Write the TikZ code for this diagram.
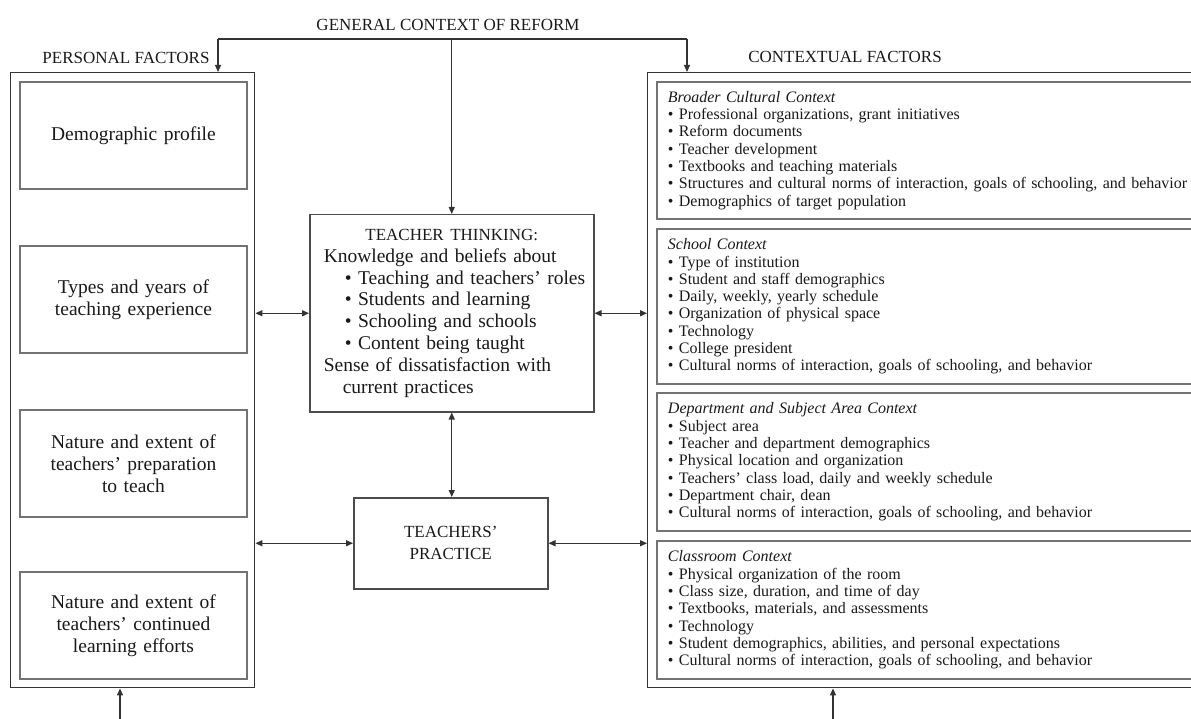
\documentclass[tikz,border=0pt]{standalone}
\usepackage{fontspec}
\setmainfont{Liberation Serif}
\usetikzlibrary{arrows.meta}
\newcommand{\bigfs}{\fontsize{19.5}{21.8}\selectfont}
\newcommand{\capfs}{\fontsize{17}{21.8}\selectfont}
\newcommand{\smallfs}{\fontsize{16.0}{17.3}\selectfont}
\newcommand{\bl}{\textbullet{} }
\tikzset{
  outerbox/.style={draw=black!80, line width=1.4pt, inner sep=0pt, anchor=north west},
  innerbox/.style={draw=black!55, line width=1.9pt, inner sep=0pt, anchor=north west},
  leftbox/.style={innerbox, minimum width=227pt, minimum height=107pt, text width=215pt, align=center, font=\bigfs},
  ctxbox/.style={innerbox, minimum height=#1, text width=540pt, inner xsep=11pt, inner ysep=0pt, align=left, font=\smallfs},
  conn/.style={draw=black!80, line width=1.3pt},
  tip/.style={-{Triangle[length=7pt,width=6pt]}},
  dtip/.style={{Triangle[length=7pt,width=6pt]}-{Triangle[length=7pt,width=6pt]}},
  lbl/.style={font=\capfs, inner sep=0pt}
}
\begin{document}
\begin{tikzpicture}[x=1pt,y=-1pt, text=black!90]
\useasboundingbox (0,0) rectangle (1191,719);
\clip (0,0) rectangle (1191,719);

% labels
\node[lbl] (gc) at (448,25) {GENERAL CONTEXT OF REFORM};
\node[lbl] (pfl) at (126,58) {PERSONAL FACTORS};
\node[lbl] (cfl) at (845,57) {CONTEXTUAL FACTORS};

% personal factors
\node[outerbox, minimum width=244pt, minimum height=615pt] (pf) at (10,72) {};
\node[leftbox] (demo) at (19,81) {Demographic profile};
\node[leftbox] (types) at (19,245) {Types and years of\\ teaching experience};
\node[leftbox] (prep) at (19,409) {Nature and extent of\\ teachers' preparation\\ to teach};
\node[leftbox] (cont) at (19,571) {Nature and extent of\\ teachers' continued\\ learning efforts};

% center
\node[innerbox, draw=black!70, line width=1.5pt, minimum width=284pt, minimum height=197pt, text width=270pt, inner xsep=7pt, align=left, font=\bigfs] (tt) at (309,214) {%
\makebox[270pt]{\capfs TEACHER THINKING:}\\
\hspace*{7pt}Knowledge and beliefs about\\
\hspace*{28pt}\bl Teaching and teachers' roles\\
\hspace*{28pt}\bl Students and learning\\
\hspace*{28pt}\bl Schooling and schools\\
\hspace*{28pt}\bl Content being taught\\
\hspace*{7pt}Sense of dissatisfaction with\\
\hspace*{26pt}current practices};

\node[innerbox, draw=black!70, line width=1.5pt, minimum width=194pt, minimum height=91pt, align=center, font=\capfs] (tp) at (353,497) {TEACHERS'\\ PRACTICE};

% contextual factors
\node[outerbox, minimum width=600pt, minimum height=615pt] (cf) at (647,72) {};
\node[ctxbox=137pt] (bcc) at (656,81) {%
\textit{Broader Cultural Context}\\
\bl Professional organizations, grant initiatives\\
\bl Reform documents\\
\bl Teacher development\\
\bl Textbooks and teaching materials\\
\bl Structures and cultural norms of interaction, goals of schooling, and behavior\\
\bl Demographics of target population};
\node[ctxbox=155pt] (sc) at (656,228) {%
\textit{School Context}\\
\bl Type of institution\\
\bl Student and staff demographics\\
\bl Daily, weekly, yearly schedule\\
\bl Organization of physical space\\
\bl Technology\\
\bl College president\\
\bl Cultural norms of interaction, goals of schooling, and behavior};
\node[ctxbox=138pt] (dsa) at (656,392) {%
\textit{Department and Subject Area Context}\\
\bl Subject area\\
\bl Teacher and department demographics\\
\bl Physical location and organization\\
\bl Teachers' class load, daily and weekly schedule\\
\bl Department chair, dean\\
\bl Cultural norms of interaction, goals of schooling, and behavior};
\node[ctxbox=138pt] (cc) at (656,540) {%
\textit{Classroom Context}\\
\bl Physical organization of the room\\
\bl Class size, duration, and time of day\\
\bl Textbooks, materials, and assessments\\
\bl Technology\\
\bl Student demographics, abilities, and personal expectations\\
\bl Cultural norms of interaction, goals of schooling, and behavior};

% connectors
\coordinate (jL) at (218,39);
\coordinate (jR) at (687,39);
\coordinate (bL) at (120,719);
\coordinate (bR) at (833,719);
\draw[conn] (jL) -- (jR);
\draw[conn, tip] (tt.north |- jL) -- (tt.north);
\draw[conn, tip] (jL) -- (jL |- pf.north);
\draw[conn, tip] (jR) -- (jR |- cf.north);
\draw[conn, dtip] (tt.west -| pf.east) -- (tt.west);
\draw[conn, dtip] (tt.east) -- (tt.east -| cf.west);
\draw[conn, dtip] (tt.south) -- (tt.south |- tp.north);
\draw[conn, dtip] (tp.west -| pf.east) -- (tp.west);
\draw[conn, dtip] (tp.east) -- (tp.east -| cf.west);
\draw[conn, tip] (bL) -- (bL |- pf.south);
\draw[conn, tip] (bR) -- (bR |- cf.south);
\end{tikzpicture}
\end{document}
